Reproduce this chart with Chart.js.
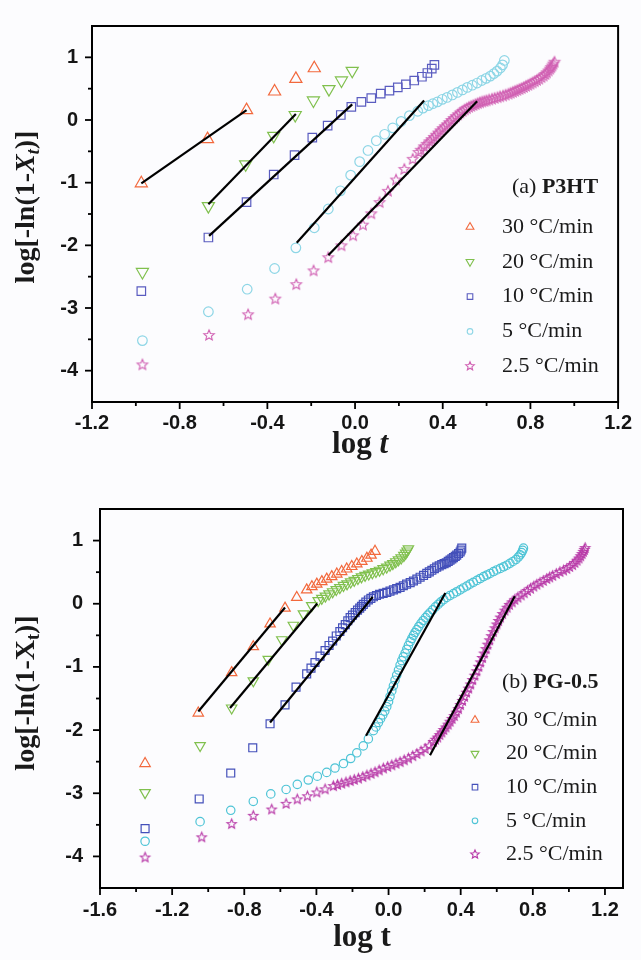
<!DOCTYPE html>
<html><head><meta charset="utf-8">
<script src="https://cdn.jsdelivr.net/npm/chart.js@4.4.1/dist/chart.umd.min.js"></script>
<style>
html,body{margin:0;padding:0;background:#fcfcfe;}
#wrap{position:relative;width:641px;height:960px;overflow:hidden;}
canvas{position:absolute;left:0;}
#c1{top:0;} #c2{top:480px;}
</style></head><body>
<div id="wrap"><canvas id="c1" width="641" height="475"></canvas><canvas id="c2" width="641" height="480"></canvas></div>
<script>
// ---------- labels ----------
const seriesLabels = ['30 °C/min','20 °C/min','10 °C/min','5 °C/min','2.5 °C/min'];
const xTicksA = [-1.2,-0.8,-0.4,0.0,0.4,0.8,1.2];
const xMinorA = [-1.0,-0.6,-0.2,0.2,0.6,1.0];
const xTicksB = [-1.6,-1.2,-0.8,-0.4,0.0,0.4,0.8,1.2];
const xMinorB = [-1.4,-1.0,-0.6,-0.2,0.2,0.6,1.0];
const yTicks = [-4,-3,-2,-1,0,1];
const yMinor = [-3.5,-2.5,-1.5,-0.5,0.5];

// ---------- (a) P3HT data ----------
const a30 = [[-0.975,-1.01],[-0.673,-0.305],[-0.495,0.157],[-0.367,0.455],[-0.27,0.656],[-0.186,0.826]];
const a20 = [[-0.97,-2.425],[-0.669,-1.375],[-0.499,-0.707],[-0.371,-0.254],[-0.273,0.08],[-0.19,0.312],[-0.119,0.492],[-0.062,0.631],[-0.013,0.785]];
const a10 = [[-0.975,-2.73],[-0.669,-1.875],[-0.495,-1.31],[-0.371,-0.87],[-0.276,-0.56],[-0.195,-0.28],[-0.125,-0.09],[-0.065,0.08],[-0.017,0.21],[0.029,0.29],[0.074,0.35],[0.117,0.42],[0.157,0.47],[0.195,0.52],[0.232,0.57],[0.27,0.63],[0.305,0.69],[0.33,0.75],[0.35,0.82],[0.362,0.88]];
const a5 = [[-0.97,-3.52],[-0.669,-3.06],[-0.492,-2.70],[-0.367,-2.37],[-0.27,-2.04],[-0.186,-1.72],[-0.122,-1.42],[-0.067,-1.13],[-0.02,-0.88],[0.021,-0.665],[0.059,-0.486],[0.097,-0.33],[0.135,-0.228],[0.172,-0.125],[0.21,-0.023],[0.248,0.07],[0.286,0.14],[0.31,0.19],[0.335,0.23],[0.355,0.26],[0.376,0.29],[0.398,0.33],[0.42,0.36],[0.444,0.40],[0.467,0.44],[0.49,0.48],[0.512,0.52],[0.535,0.555],[0.557,0.59],[0.578,0.63],[0.598,0.665],[0.617,0.70],[0.633,0.74],[0.648,0.78],[0.663,0.83],[0.673,0.88],[0.681,0.95]];
const a25 = [[-0.97,-3.90],[-0.666,-3.43],[-0.488,-3.10],[-0.364,-2.85],[-0.268,-2.62],[-0.189,-2.40],[-0.122,-2.19],[-0.062,-2.0],[-0.009,-1.84],[0.036,-1.67],[0.074,-1.49],[0.112,-1.31],[0.15,-1.13],[0.187,-0.95],[0.225,-0.78],[0.263,-0.62],[0.29,-0.51],[0.30,-0.475],[0.315,-0.42],[0.327,-0.38],[0.34,-0.34],[0.35,-0.305],[0.36,-0.27],[0.37,-0.235],[0.38,-0.2],[0.39,-0.165],[0.40,-0.13],[0.41,-0.10],[0.42,-0.07],[0.43,-0.035],[0.44,0.0],[0.45,0.03],[0.46,0.06],[0.47,0.09],[0.48,0.12],[0.49,0.145],[0.50,0.17],[0.51,0.19],[0.52,0.21],[0.53,0.225],[0.54,0.24],[0.55,0.255],[0.56,0.27],[0.57,0.283],[0.58,0.295],[0.59,0.305],[0.60,0.315],[0.612,0.328],[0.625,0.34],[0.637,0.353],[0.65,0.365],[0.662,0.378],[0.675,0.39],[0.687,0.405],[0.70,0.42],[0.71,0.435],[0.72,0.45],[0.73,0.465],[0.74,0.48],[0.75,0.495],[0.76,0.51],[0.77,0.527],[0.78,0.545],[0.79,0.562],[0.80,0.58],[0.81,0.60],[0.82,0.62],[0.83,0.64],[0.84,0.66],[0.85,0.685],[0.86,0.71],[0.868,0.735],[0.875,0.76],[0.883,0.79],[0.89,0.82],[0.895,0.845],[0.90,0.87],[0.905,0.90],[0.91,0.93]];
const aFit30 = [[-0.975,-1.01],[-0.495,0.157]];
const aFit20 = [[-0.669,-1.344],[-0.27,0.096]];
const aFit10 = [[-0.666,-1.85],[-0.013,0.25]];
const aFit5 = [[-0.266,-1.96],[0.315,0.312]];
const aFit25 = [[-0.122,-2.16],[0.557,0.30]];

// ---------- (b) PG-0.5 data ----------
const b30 = [[-1.35,-2.53],[-1.055,-1.73],[-0.87,-1.09],[-0.75,-0.68],[-0.657,-0.32],[-0.574,-0.07],[-0.509,0.10],[-0.454,0.22],[-0.425,0.27],[-0.398,0.31],[-0.37,0.35],[-0.343,0.39],[-0.315,0.43],[-0.287,0.47],[-0.26,0.51],[-0.232,0.55],[-0.204,0.59],[-0.176,0.63],[-0.148,0.67],[-0.12,0.72],[-0.097,0.77],[-0.075,0.83]];
const b20 = [[-1.35,-2.99],[-1.045,-2.245],[-0.87,-1.65],[-0.75,-1.22],[-0.667,-0.88],[-0.592,-0.57],[-0.528,-0.34],[-0.472,-0.16],[-0.426,-0.03],[-0.39,0.05],[-0.37,0.085],[-0.35,0.12],[-0.33,0.155],[-0.31,0.19],[-0.29,0.225],[-0.27,0.255],[-0.25,0.29],[-0.23,0.315],[-0.21,0.345],[-0.19,0.37],[-0.17,0.40],[-0.15,0.425],[-0.13,0.45],[-0.11,0.47],[-0.09,0.49],[-0.07,0.51],[-0.05,0.53],[-0.03,0.555],[-0.01,0.58],[0.008,0.61],[0.024,0.635],[0.04,0.665],[0.055,0.695],[0.07,0.725],[0.085,0.765],[0.095,0.80],[0.103,0.835],[0.11,0.87]];
const b10 = [[-1.35,-3.56],[-1.05,-3.09],[-0.875,-2.68],[-0.753,-2.28],[-0.657,-1.90],[-0.574,-1.60],[-0.513,-1.32],[-0.454,-1.11],[-0.43,-1.02],[-0.408,-0.93],[-0.38,-0.83],[-0.352,-0.74],[-0.33,-0.66],[-0.31,-0.59],[-0.29,-0.51],[-0.27,-0.44],[-0.255,-0.38],[-0.24,-0.33],[-0.226,-0.27],[-0.213,-0.22],[-0.2,-0.18],[-0.185,-0.14],[-0.172,-0.10],[-0.16,-0.07],[-0.15,-0.04],[-0.14,-0.01],[-0.126,0.025],[-0.112,0.06],[-0.098,0.085],[-0.084,0.11],[-0.067,0.13],[-0.05,0.15],[-0.03,0.165],[-0.01,0.18],[0.008,0.20],[0.027,0.22],[0.045,0.24],[0.064,0.26],[0.082,0.285],[0.10,0.31],[0.12,0.335],[0.138,0.36],[0.157,0.39],[0.175,0.42],[0.194,0.45],[0.212,0.48],[0.226,0.505],[0.24,0.53],[0.254,0.555],[0.267,0.58],[0.281,0.60],[0.295,0.62],[0.308,0.635],[0.32,0.65],[0.331,0.67],[0.341,0.69],[0.351,0.71],[0.36,0.73],[0.37,0.75],[0.378,0.77],[0.388,0.795],[0.397,0.82],[0.402,0.85],[0.406,0.88]];
const b5 = [[-1.35,-3.76],[-1.045,-3.45],[-0.875,-3.27],[-0.75,-3.13],[-0.653,-3.01],[-0.568,-2.94],[-0.506,-2.86],[-0.445,-2.79],[-0.395,-2.73],[-0.343,-2.67],[-0.297,-2.60],[-0.25,-2.53],[-0.21,-2.45],[-0.176,-2.36],[-0.14,-2.25],[-0.112,-2.14],[-0.084,-2.01],[-0.07,-1.95],[-0.056,-1.88],[-0.044,-1.82],[-0.032,-1.76],[-0.021,-1.70],[-0.01,-1.63],[0.0,-1.55],[0.008,-1.47],[0.018,-1.38],[0.027,-1.30],[0.036,-1.21],[0.045,-1.13],[0.055,-1.05],[0.064,-0.97],[0.073,-0.90],[0.082,-0.84],[0.092,-0.78],[0.101,-0.72],[0.11,-0.66],[0.12,-0.60],[0.129,-0.55],[0.138,-0.50],[0.147,-0.455],[0.157,-0.41],[0.168,-0.36],[0.18,-0.31],[0.192,-0.265],[0.205,-0.22],[0.217,-0.18],[0.23,-0.14],[0.245,-0.095],[0.26,-0.05],[0.275,-0.01],[0.29,0.03],[0.306,0.065],[0.323,0.10],[0.34,0.13],[0.36,0.16],[0.378,0.19],[0.397,0.22],[0.415,0.25],[0.434,0.28],[0.452,0.31],[0.47,0.34],[0.49,0.37],[0.508,0.40],[0.527,0.43],[0.545,0.455],[0.563,0.48],[0.582,0.51],[0.60,0.535],[0.62,0.56],[0.638,0.585],[0.656,0.61],[0.673,0.64],[0.69,0.67],[0.706,0.70],[0.72,0.74],[0.73,0.775],[0.738,0.81],[0.744,0.845],[0.748,0.88]];
const b25 = [[-1.35,-4.01],[-1.036,-3.69],[-0.87,-3.48],[-0.75,-3.35],[-0.648,-3.25],[-0.568,-3.16],[-0.506,-3.09],[-0.45,-3.04],[-0.398,-2.98],[-0.352,-2.93],[-0.306,-2.88],[-0.283,-2.86],[-0.26,-2.84],[-0.236,-2.82],[-0.213,-2.80],[-0.19,-2.78],[-0.167,-2.76],[-0.143,-2.735],[-0.12,-2.71],[-0.097,-2.685],[-0.075,-2.66],[-0.052,-2.63],[-0.029,-2.60],[-0.005,-2.575],[0.018,-2.55],[0.041,-2.525],[0.064,-2.50],[0.087,-2.47],[0.11,-2.44],[0.134,-2.405],[0.157,-2.37],[0.18,-2.33],[0.203,-2.29],[0.226,-2.24],[0.249,-2.18],[0.26,-2.145],[0.272,-2.11],[0.284,-2.07],[0.295,-2.03],[0.306,-1.99],[0.318,-1.95],[0.33,-1.905],[0.341,-1.86],[0.352,-1.815],[0.364,-1.77],[0.376,-1.715],[0.387,-1.66],[0.398,-1.595],[0.41,-1.53],[0.421,-1.465],[0.432,-1.40],[0.444,-1.335],[0.455,-1.27],[0.466,-1.20],[0.478,-1.13],[0.489,-1.06],[0.50,-0.99],[0.51,-0.92],[0.52,-0.85],[0.53,-0.78],[0.54,-0.71],[0.55,-0.64],[0.56,-0.57],[0.57,-0.505],[0.58,-0.44],[0.59,-0.38],[0.60,-0.32],[0.61,-0.265],[0.62,-0.21],[0.632,-0.155],[0.645,-0.10],[0.657,-0.055],[0.67,-0.01],[0.685,0.03],[0.70,0.07],[0.717,0.105],[0.735,0.14],[0.752,0.175],[0.77,0.21],[0.787,0.245],[0.805,0.28],[0.822,0.31],[0.84,0.34],[0.858,0.37],[0.877,0.40],[0.893,0.425],[0.91,0.45],[0.93,0.48],[0.95,0.51],[0.97,0.535],[0.988,0.56],[1.004,0.59],[1.02,0.62],[1.033,0.655],[1.045,0.69],[1.056,0.725],[1.065,0.76],[1.073,0.795],[1.08,0.83],[1.086,0.86],[1.09,0.89]];
const bFit30 = [[-1.055,-1.705],[-0.574,-0.06]];
const bFit20 = [[-0.879,-1.65],[-0.395,0.003]];
const bFit10 = [[-0.657,-1.88],[-0.088,0.107]];
const bFit5 = [[-0.125,-2.09],[0.315,0.17]];
const bFit25 = [[0.23,-2.40],[0.70,0.12]];

const colorsA = ['#f2683c','#80c04e','#5a5cc0','#8ed6e6','#d05fb2'];
const colorsB = ['#f2683c','#80c04e','#4450ba','#4ec4d6','#b83aa8'];

// ---------- helpers ----------
const SERIF = '"Liberation Serif","Times New Roman",serif';
const SANS = '"Liberation Sans",Arial,sans-serif';
function starPath(g,cx,cy,R){
  const r=R*0.45; g.beginPath();
  for(let i=0;i<10;i++){const a=-Math.PI/2+i*Math.PI/5;const rr=i%2===0?R:r;
    const px=cx+rr*Math.cos(a),py=cy+rr*Math.sin(a); i?g.lineTo(px,py):g.moveTo(px,py);}
  g.closePath();
}
function makeStar(color,R,lw){
  const s=Math.ceil(2*R+lw*2+2); const c=document.createElement('canvas'); c.width=s; c.height=s;
  const g=c.getContext('2d'); starPath(g,s/2,s/2+0.5,R); g.strokeStyle=color; g.lineWidth=lw; g.stroke(); return c;
}
function drawMarker(ctx,kind,x,y,s,color){
  ctx.save(); ctx.strokeStyle=color; ctx.lineWidth=1.1; ctx.beginPath();
  if(kind===0){ctx.moveTo(x,y-s);ctx.lineTo(x+s*0.87,y+s*0.5);ctx.lineTo(x-s*0.87,y+s*0.5);ctx.closePath();}
  else if(kind===1){ctx.moveTo(x,y+s);ctx.lineTo(x+s*0.87,y-s*0.5);ctx.lineTo(x-s*0.87,y-s*0.5);ctx.closePath();}
  else if(kind===2){ctx.rect(x-s*0.62,y-s*0.62,s*1.24,s*1.24);}
  else if(kind===3){ctx.arc(x,y,s*0.62,0,Math.PI*2);}
  else {starPath(ctx,x,y,s);}
  ctx.stroke(); ctx.restore();
}
function buildDatasets(series,fits,colors,sizes){
  const ds=[];
  fits.forEach(f=>ds.push({data:f.map(p=>({x:p[0],y:p[1]})),showLine:true,borderColor:'#000',borderWidth:2.2,pointRadius:0,order:0}));
  series.forEach((s,i)=>{
    const d={data:s.map(p=>({x:p[0],y:p[1]})),showLine:false,borderColor:colors[i],backgroundColor:'rgba(255,255,255,0)',borderWidth:1.2,pointRadius:sizes[i],order:1};
    if(i===0) d.pointStyle='triangle';
    if(i===1){d.pointStyle='triangle';d.rotation=180;}
    if(i===2) d.pointStyle='rect';
    if(i===3) d.pointStyle='circle';
    if(i===4) d.pointStyle=makeStar(colors[i],sizes[i],1.1);
    ds.push(d);
  });
  return ds;
}
const deco={
  id:'deco',
  afterDraw(chart,args,o){
    const {ctx,chartArea:a,scales:{x,y}}=chart;
    ctx.save();
    ctx.strokeStyle='#000'; ctx.lineWidth=2;
    ctx.strokeRect(a.left,a.top,a.right-a.left,a.bottom-a.top);
    ctx.lineWidth=1.8;
    const ln=(x1,y1,x2,y2)=>{ctx.beginPath();ctx.moveTo(x1,y1);ctx.lineTo(x2,y2);ctx.stroke();};
    o.xMajor.forEach(v=>{const p=x.getPixelForValue(v);ln(p,a.bottom,p,a.bottom+7);});
    o.xMinor.forEach(v=>{const p=x.getPixelForValue(v);ln(p,a.bottom,p,a.bottom+4);});
    yTicks.forEach(v=>{const p=y.getPixelForValue(v);ln(a.left,p,a.left-7,p);});
    yMinor.forEach(v=>{const p=y.getPixelForValue(v);ln(a.left,p,a.left-4,p);});
    // legend
    ctx.fillStyle='#1a1a1a'; ctx.textBaseline='middle';
    ctx.font='22px '+SERIF; ctx.fillText(o.tag,o.tagX,o.tagY);
    const w=ctx.measureText(o.tag).width;
    ctx.font='bold 22px '+SERIF; ctx.fillText(o.name,o.tagX+w,o.tagY);
    ctx.font='22px '+SERIF;
    seriesLabels.forEach((t,i)=>{
      const yy=o.legY+i*o.legDy;
      drawMarker(ctx,i,o.legMX,yy,4.5,o.colors[i]);
      ctx.fillText(t,o.legTX,yy);
    });
    // x title
    ctx.textAlign='left';
    const XF='bold 31px '+SERIF, XFI=(o.italic?'italic ':'')+'bold 31px '+SERIF;
    ctx.font=XF; const w1=ctx.measureText('log ').width;
    ctx.font=XFI; const w2=ctx.measureText('t').width;
    let sx=o.xtX-(w1+w2)/2;
    ctx.font=XF; ctx.fillText('log ',sx,o.xtY);
    ctx.font=XFI; ctx.fillText('t',sx+w1,o.xtY);
    // y title
    ctx.save();
    ctx.translate(o.ytX,o.ytY); ctx.rotate(-Math.PI/2);
    const it=o.italic?'italic ':'';
    const parts=[['log[-ln(1-','bold 28px ',0],['X',it+'bold 28px ',0],['t',it+'bold 18px ',7],[')]','bold 28px ',0]];
    let tw=0; parts.forEach(p=>{ctx.font=p[1]+SERIF; tw+=ctx.measureText(p[0]).width;});
    let cx=-tw/2;
    parts.forEach(p=>{ctx.font=p[1]+SERIF; ctx.fillText(p[0],cx,p[2]); cx+=ctx.measureText(p[0]).width;});
    ctx.restore();
    ctx.restore();
  }
};
function makeChart(id,cfg){
  const H=cfg.H;
  return new Chart(document.getElementById(id),{
    type:'scatter',
    data:{datasets:buildDatasets(cfg.series,cfg.fits,cfg.colors,cfg.sizes)},
    options:{
      responsive:false,animation:false,
      layout:{padding:{top:cfg.top,right:cfg.right,left:0,bottom:0}},
      plugins:{legend:{display:false},tooltip:{enabled:false},deco:cfg.deco},
      scales:{
        x:{type:'linear',min:cfg.xmin,max:cfg.xmax,
          afterBuildTicks:s=>{s.ticks=cfg.xTicks.map(v=>({value:v}));},
          afterFit:s=>{s.height=H-cfg.bottom;},
          grid:{display:false,drawTicks:false},border:{display:false},
          ticks:{autoSkip:false,maxRotation:0,padding:cfg.xpad,color:'#151515',font:{family:SANS,size:20,weight:'bold'},callback:v=>Number(v).toFixed(1)}},
        y:{type:'linear',min:-4.5,max:1.5,
          afterBuildTicks:s=>{s.ticks=yTicks.map(v=>({value:v}));},
          afterFit:s=>{s.width=cfg.left;},
          grid:{display:false,drawTicks:false},border:{display:false},
          ticks:{autoSkip:false,padding:cfg.ypad,color:'#151515',font:{family:SANS,size:20,weight:'bold'},callback:v=>String(v)}}
      }
    },
    plugins:[deco]
  });
}
makeChart('c1',{H:475,top:13,right:19,bottom:402,left:92,xmin:-1.2,xmax:1.2,xTicks:xTicksA,xpad:9,ypad:14,
  series:[a30,a20,a10,a5,a25],fits:[aFit30,aFit20,aFit10,aFit5,aFit25],colors:colorsA,sizes:[7,7,6,4.8,5.5],
  deco:{xMajor:xTicksA,xMinor:xMinorA,tag:'(a) ',name:'P3HT',tagX:512,tagY:187,legY:227,legDy:34.8,legMX:470,legTX:502,colors:colorsA,
    xtX:360,xtY:445,ytX:27,ytY:207,italic:true}});
makeChart('c2',{H:480,top:19,right:18,bottom:408,left:100,xmin:-1.6,xmax:1.3,xTicks:xTicksB,xpad:10,ypad:17,
  series:[b30,b20,b10,b5,b25],fits:[bFit30,bFit20,bFit10,bFit5,bFit25],colors:colorsB,sizes:[6,6,5.6,4.2,5],
  deco:{xMajor:xTicksB,xMinor:xMinorB,tag:'(b) ',name:'PG-0.5',tagX:502,tagY:202,legY:240,legDy:33.6,legMX:475,legTX:506,colors:colorsB,
    xtX:362,xtY:458,ytX:27,ytY:213,italic:false}});
</script>
</body></html>
